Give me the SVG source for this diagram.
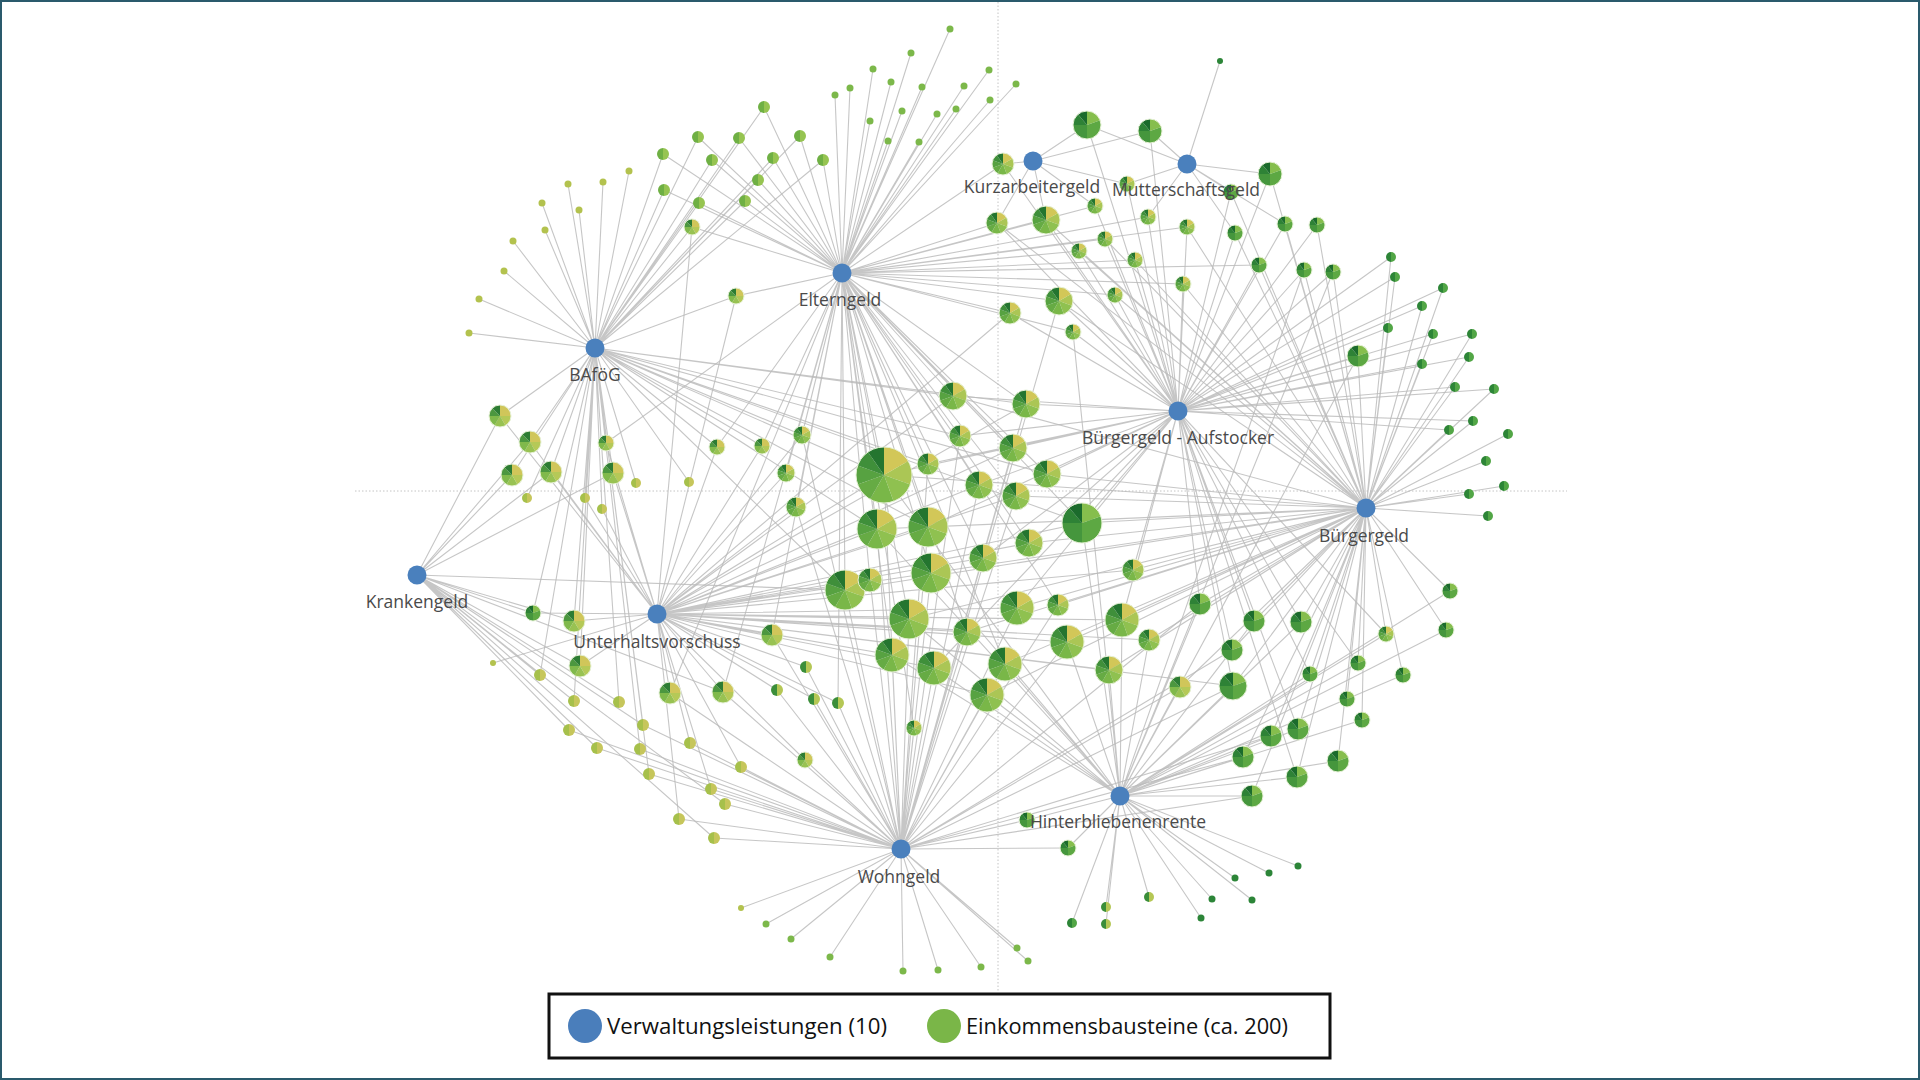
<svg xmlns="http://www.w3.org/2000/svg" width="1920" height="1080" viewBox="0 0 1920 1080">
<style>
.e{fill:none;stroke:#bababa;stroke-width:1.1;stroke-opacity:.82}
.guide{stroke:#c4c4c4;stroke-width:1;stroke-dasharray:1.5 2}
.rim{fill:none;stroke:#e6f1d6;stroke-width:1;vector-effect:non-scaling-stroke}
.hub{fill:#4a80bd}
.lbl{font-family:"Open Sans","DejaVu Sans",sans-serif;font-size:17.5px;fill:#4a4a4a;text-anchor:middle}
.leg{font-family:"Open Sans","DejaVu Sans",sans-serif;font-size:22px;fill:#111}
</style>
<defs>
<g id="pm"><path fill="#d2c758" d="M0 0L0-1A1 1 0 0 1 .866-.5Z"/><path fill="#abc655" d="M0 0L.866-.5A1 1 0 0 1 .94 .342Z"/><path fill="#8fc150" d="M0 0L.94 .342A1 1 0 0 1 .342 .94Z"/><path fill="#79b748" d="M0 0L.342 .94A1 1 0 0 1-.5 .866Z"/><path fill="#66ab44" d="M0 0L-.5 .866A1 1 0 0 1-.94 .342Z"/><path fill="#57a241" d="M0 0L-.94 .342A1 1 0 0 1-.94-.342Z"/><path fill="#3f8f3a" d="M0 0L-.94-.342A1 1 0 0 1-.574-.819Z"/><path fill="#24752f" d="M0 0L-.574-.819A1 1 0 0 1 0-1Z"/><circle class="rim" r="1"/></g>
<g id="py"><path fill="#d0c65a" d="M0 0L0-1A1 1 0 0 1 1 0Z"/><path fill="#b5c957" d="M0 0L1 0A1 1 0 0 1 .5 .866Z"/><path fill="#98c252" d="M0 0L.5 .866A1 1 0 0 1-.5 .866Z"/><path fill="#80b94b" d="M0 0L-.5 .866A1 1 0 0 1-1 0Z"/><path fill="#4c973f" d="M0 0L-1 0A1 1 0 0 1-.707-.707Z"/><path fill="#2d7c33" d="M0 0L-.707-.707A1 1 0 0 1 0-1Z"/><circle class="rim" r="1"/></g>
<g id="pd"><path fill="#86be4d" d="M0 0L0-1A1 1 0 0 1 .94-.342Z"/><path fill="#5da843" d="M0 0L.94-.342A1 1 0 0 1 0 1Z"/><path fill="#45963d" d="M0 0L0 1A1 1 0 0 1-1 0Z"/><path fill="#2e8236" d="M0 0L-1 0A1 1 0 0 1-.643-.766Z"/><path fill="#1b6b2c" d="M0 0L-.643-.766A1 1 0 0 1 0-1Z"/><circle class="rim" r="1"/></g>
<g id="hy"><path fill="#a6c04b" d="M0-1A1 1 0 0 0 0 1Z"/><path fill="#c6c65b" d="M0-1A1 1 0 0 1 0 1Z"/></g>
<g id="hm"><path fill="#6fb044" d="M0-1A1 1 0 0 0 0 1Z"/><path fill="#96c451" d="M0-1A1 1 0 0 1 0 1Z"/></g>
<g id="hd"><path fill="#2d8537" d="M0-1A1 1 0 0 0 0 1Z"/><path fill="#52a646" d="M0-1A1 1 0 0 1 0 1Z"/></g>
<g id="hx"><path fill="#3b8e3a" d="M0-1A1 1 0 0 0 0 1Z"/><path fill="#b5c755" d="M0-1A1 1 0 0 1 0 1Z"/></g>
<circle id="dy" r="1" fill="#b3c24e"/>
<circle id="dg" r="1" fill="#7cb84a"/>
<circle id="dd" r="1" fill="#2c8538"/>
</defs>
<rect x="0" y="0" width="1920" height="1080" fill="#fff"/>
<line class="guide" x1="998" y1="2" x2="998" y2="992"/>
<line class="guide" x1="355" y1="491" x2="1567" y2="491"/>
<g id="connectors">
<path id="e-bafog" class="e" d="M595 348L469 333M595 348L479 299M595 348L504 271M595 348L513 241M595 348L542 203M595 348L545 230M595 348L568 184M595 348L579 210M595 348L603 182M595 348L629 171M595 348L663 154M595 348L698 137M595 348L739 138M595 348L712 160M595 348L664 190M595 348L699 203M595 348L745 201M595 348L758 180M595 348L764 107M595 348L800 136M595 348L773 158M595 348L823 160M595 348L692 227M595 348L736 296M595 348L500 416M595 348L530 442M595 348L512 475M595 348L551 472M595 348L606 443M595 348L613 473M595 348L636 483M595 348L527 498M595 348L585 498M595 348L602 509M595 348L689 482M595 348L717 447M595 348L762 446M595 348L802 435M595 348L533 613M595 348L574 621M595 348L540 675M595 348L580 666M595 348L574 701M595 348L619 702M595 348L643 725M595 348L640 749M595 348L649 774M595 348L884 475M595 348L928 464M595 348L877 529M595 348L928 527M595 348L845 590M595 348L1082 523M595 348L953 396M595 348L1026 404M595 348L960 436M595 348L1047 474"/>
<path id="e-elterngeld" class="e" d="M842 273L663 154M842 273L698 137M842 273L739 138M842 273L712 160M842 273L664 190M842 273L699 203M842 273L745 201M842 273L758 180M842 273L764 107M842 273L800 136M842 273L773 158M842 273L823 160M842 273L950 29M842 273L911 53M842 273L873 69M842 273L891 82M842 273L850 88M842 273L835 95M842 273L922 87M842 273L902 111M842 273L870 121M842 273L888 141M842 273L919 142M842 273L937 114M842 273L956 109M842 273L964 86M842 273L989 70M842 273L990 100M842 273L1016 84M842 273L692 227M842 273L736 296M842 273L606 443M842 273L717 447M842 273L762 446M842 273L802 435M842 273L786 473M842 273L796 507M842 273L772 635M842 273L670 693M842 273L723 692M842 273L884 475M842 273L928 464M842 273L877 529M842 273L928 527M842 273L931 573M842 273L845 590M842 273L870 580M842 273L909 619M842 273L892 655M842 273L967 632M842 273L1005 664M842 273L1058 605M842 273L983 558M842 273L1029 543M842 273L1082 523M842 273L953 396M842 273L1026 404M842 273L960 436M842 273L1013 448M842 273L1047 474M842 273L979 485M842 273L1016 496M842 273L838 703M842 273L914 728M842 273L1003 164M842 273L1095 206M842 273L1148 217M842 273L997 223M842 273L1046 220M842 273L1105 239M842 273L1079 251M842 273L1135 260M842 273L1059 301M842 273L1010 313M842 273L1115 295M842 273L1073 332M842 273L1187 227M842 273L1259 265M842 273L1183 284"/>
<path id="e-kurzarbeitergeld" class="e" d="M1033 161L1003 164M1033 161L1087 125M1033 161L1150 131M1033 161L1127 184M1033 161L1095 206M1033 161L997 223M1033 161L1046 220"/>
<path id="e-mutterschaftsgeld" class="e" d="M1187 164L1087 125M1187 164L1150 131M1187 164L1127 184M1187 164L1148 217M1187 164L1220 61M1187 164L1270 174M1187 164L1231 192M1187 164L1235 233M1187 164L1285 224"/>
<path id="e-aufstocker" class="e" d="M1178 411L884 475M1178 411L928 464M1178 411L928 527M1178 411L934 668M1178 411L1017 608M1178 411L983 558M1178 411L1029 543M1178 411L1082 523M1178 411L1122 620M1178 411L1133 570M1178 411L953 396M1178 411L1026 404M1178 411L960 436M1178 411L1013 448M1178 411L1047 474M1178 411L979 485M1178 411L1386 634M1178 411L1358 663M1178 411L1310 674M1178 411L1200 604M1178 411L1254 621M1178 411L1301 622M1178 411L1232 650M1178 411L1233 686M1178 411L1298 729M1178 411L1297 777M1178 411L1003 164M1178 411L1087 125M1178 411L1150 131M1178 411L1127 184M1178 411L1095 206M1178 411L1148 217M1178 411L997 223M1178 411L1046 220M1178 411L1105 239M1178 411L1079 251M1178 411L1135 260M1178 411L1059 301M1178 411L1010 313M1178 411L1115 295M1178 411L1073 332M1178 411L1270 174M1178 411L1231 192M1178 411L1187 227M1178 411L1235 233M1178 411L1285 224M1178 411L1317 225M1178 411L1259 265M1178 411L1304 270M1178 411L1333 272M1178 411L1183 284M1178 411L1391 257M1178 411L1395 277M1178 411L1443 288M1178 411L1422 306M1178 411L1388 328M1178 411L1433 334M1178 411L1472 334M1178 411L1358 356M1178 411L1422 364M1178 411L1469 357M1178 411L1455 387M1178 411L1494 389M1178 411L1473 421M1178 411L1449 430"/>
<path id="e-buergergeld" class="e" d="M1366 508L884 475M1366 508L877 529M1366 508L928 527M1366 508L931 573M1366 508L845 590M1366 508L909 619M1366 508L967 632M1366 508L987 695M1366 508L1005 664M1366 508L1017 608M1366 508L1058 605M1366 508L1067 642M1366 508L1029 543M1366 508L1082 523M1366 508L1122 620M1366 508L1109 670M1366 508L1149 640M1366 508L1133 570M1366 508L953 396M1366 508L1047 474M1366 508L1016 496M1366 508L1450 591M1366 508L1446 630M1366 508L1386 634M1366 508L1403 675M1366 508L1358 663M1366 508L1310 674M1366 508L1347 699M1366 508L1362 720M1366 508L1200 604M1366 508L1254 621M1366 508L1301 622M1366 508L1232 650M1366 508L1180 687M1366 508L1233 686M1366 508L1271 736M1366 508L1298 729M1366 508L1243 757M1366 508L1297 777M1366 508L1338 761M1366 508L1252 796M1366 508L997 223M1366 508L1046 220M1366 508L1105 239M1366 508L1079 251M1366 508L1135 260M1366 508L1059 301M1366 508L1115 295M1366 508L1270 174M1366 508L1231 192M1366 508L1187 227M1366 508L1235 233M1366 508L1285 224M1366 508L1317 225M1366 508L1259 265M1366 508L1304 270M1366 508L1333 272M1366 508L1183 284M1366 508L1391 257M1366 508L1395 277M1366 508L1443 288M1366 508L1422 306M1366 508L1388 328M1366 508L1433 334M1366 508L1472 334M1366 508L1358 356M1366 508L1422 364M1366 508L1469 357M1366 508L1455 387M1366 508L1494 389M1366 508L1473 421M1366 508L1449 430M1366 508L1508 434M1366 508L1486 461M1366 508L1504 486M1366 508L1469 494M1366 508L1488 516"/>
<path id="e-krankengeld" class="e" d="M417 575L500 416M417 575L512 475M417 575L530 442M417 575L551 472M417 575L613 473M417 575L533 613M417 575L574 621M417 575L540 675M417 575L580 666M417 575L574 701M417 575L619 702M417 575L569 730M417 575L643 725M417 575L597 748M417 575L725 804M417 575L714 838M417 575L845 590M417 575L723 692"/>
<path id="e-unterhalt" class="e" d="M657 614L692 227M657 614L736 296M657 614L500 416M657 614L530 442M657 614L551 472M657 614L606 443M657 614L613 473M657 614L585 498M657 614L602 509M657 614L717 447M657 614L762 446M657 614L802 435M657 614L786 473M657 614L796 507M657 614L772 635M657 614L533 613M657 614L574 621M657 614L493 663M657 614L580 666M657 614L670 693M657 614L723 692M657 614L690 743M657 614L741 767M657 614L711 789M657 614L679 819M657 614L884 475M657 614L877 529M657 614L928 527M657 614L931 573M657 614L845 590M657 614L870 580M657 614L909 619M657 614L892 655M657 614L934 668M657 614L967 632M657 614L987 695M657 614L1017 608M657 614L1067 642M657 614L983 558M657 614L1029 543M657 614L1082 523M657 614L1122 620M657 614L1109 670M657 614L1149 640M657 614L1133 570M657 614L953 396M657 614L1026 404M657 614L1013 448M657 614L979 485M657 614L1016 496M657 614L806 667M657 614L777 690M657 614L814 699M657 614L838 703M657 614L805 760M657 614L1233 686M657 614L1010 313"/>
<path id="e-wohngeld" class="e" d="M901 849L802 435M901 849L796 507M901 849L772 635M901 849L670 693M901 849L723 692M901 849L569 730M901 849L643 725M901 849L597 748M901 849L640 749M901 849L690 743M901 849L649 774M901 849L741 767M901 849L711 789M901 849L725 804M901 849L679 819M901 849L714 838M901 849L741 908M901 849L766 924M901 849L791 939M901 849L830 957M901 849L903 971M901 849L938 970M901 849L981 967M901 849L1017 948M901 849L1028 961M901 849L884 475M901 849L928 464M901 849L877 529M901 849L928 527M901 849L931 573M901 849L845 590M901 849L870 580M901 849L909 619M901 849L892 655M901 849L934 668M901 849L967 632M901 849L987 695M901 849L1005 664M901 849L1017 608M901 849L1058 605M901 849L1067 642M901 849L1026 404M901 849L960 436M901 849L1013 448M901 849L979 485M901 849L1016 496M901 849L806 667M901 849L777 690M901 849L814 699M901 849L838 703M901 849L914 728M901 849L805 760M901 849L1027 820M901 849L1068 848M901 849L1200 604M901 849L1232 650M901 849L1180 687M901 849L1233 686M901 849L1271 736M901 849L1243 757M901 849L1252 796M901 849L1059 301"/>
<path id="e-hinterbliebenenrente" class="e" d="M1120 796L884 475M1120 796L877 529M1120 796L931 573M1120 796L909 619M1120 796L892 655M1120 796L934 668M1120 796L987 695M1120 796L1005 664M1120 796L1067 642M1120 796L1082 523M1120 796L1122 620M1120 796L1109 670M1120 796L1149 640M1120 796L1027 820M1120 796L1068 848M1120 796L1149 897M1120 796L1106 907M1120 796L1106 924M1120 796L1072 923M1120 796L1298 866M1120 796L1269 873M1120 796L1235 878M1120 796L1212 899M1120 796L1252 900M1120 796L1201 918M1120 796L1450 591M1120 796L1446 630M1120 796L1386 634M1120 796L1403 675M1120 796L1358 663M1120 796L1310 674M1120 796L1347 699M1120 796L1362 720M1120 796L1200 604M1120 796L1254 621M1120 796L1301 622M1120 796L1232 650M1120 796L1180 687M1120 796L1233 686M1120 796L1271 736M1120 796L1298 729M1120 796L1243 757M1120 796L1297 777M1120 796L1338 761M1120 796L1252 796M1120 796L1073 332M1120 796L1304 270M1120 796L1333 272M1120 796L1358 356"/>
</g>
<g id="income-nodes">
<g id="n1" transform="translate(469 333) scale(3.5)"><use href="#dy"/></g>
<g id="n2" transform="translate(479 299) scale(3.5)"><use href="#dy"/></g>
<g id="n3" transform="translate(504 271) scale(3.5)"><use href="#dy"/></g>
<g id="n4" transform="translate(513 241) scale(3.5)"><use href="#dy"/></g>
<g id="n5" transform="translate(542 203) scale(3.5)"><use href="#dy"/></g>
<g id="n6" transform="translate(545 230) scale(3.5)"><use href="#dy"/></g>
<g id="n7" transform="translate(568 184) scale(3.5)"><use href="#dy"/></g>
<g id="n8" transform="translate(579 210) scale(3.5)"><use href="#dy"/></g>
<g id="n9" transform="translate(603 182) scale(3.5)"><use href="#dy"/></g>
<g id="n10" transform="translate(629 171) scale(3.5)"><use href="#dy"/></g>
<g id="n11" transform="translate(663 154) scale(6)"><use href="#hm"/></g>
<g id="n12" transform="translate(698 137) scale(6)"><use href="#hm"/></g>
<g id="n13" transform="translate(739 138) scale(6)"><use href="#hm"/></g>
<g id="n14" transform="translate(712 160) scale(6)"><use href="#hm"/></g>
<g id="n15" transform="translate(664 190) scale(6)"><use href="#hm"/></g>
<g id="n16" transform="translate(699 203) scale(6)"><use href="#hm"/></g>
<g id="n17" transform="translate(745 201) scale(6)"><use href="#hm"/></g>
<g id="n18" transform="translate(758 180) scale(6)"><use href="#hm"/></g>
<g id="n19" transform="translate(764 107) scale(6)"><use href="#hm"/></g>
<g id="n20" transform="translate(800 136) scale(6)"><use href="#hm"/></g>
<g id="n21" transform="translate(773 158) scale(6)"><use href="#hm"/></g>
<g id="n22" transform="translate(823 160) scale(6)"><use href="#hm"/></g>
<g id="n23" transform="translate(950 29) scale(3.5)"><use href="#dg"/></g>
<g id="n24" transform="translate(911 53) scale(3.5)"><use href="#dg"/></g>
<g id="n25" transform="translate(873 69) scale(3.5)"><use href="#dg"/></g>
<g id="n26" transform="translate(891 82) scale(3.5)"><use href="#dg"/></g>
<g id="n27" transform="translate(850 88) scale(3.5)"><use href="#dg"/></g>
<g id="n28" transform="translate(835 95) scale(3.5)"><use href="#dg"/></g>
<g id="n29" transform="translate(922 87) scale(3.5)"><use href="#dg"/></g>
<g id="n30" transform="translate(902 111) scale(3.5)"><use href="#dg"/></g>
<g id="n31" transform="translate(870 121) scale(3.5)"><use href="#dg"/></g>
<g id="n32" transform="translate(888 141) scale(3.5)"><use href="#dg"/></g>
<g id="n33" transform="translate(919 142) scale(3.5)"><use href="#dg"/></g>
<g id="n34" transform="translate(937 114) scale(3.5)"><use href="#dg"/></g>
<g id="n35" transform="translate(956 109) scale(3.5)"><use href="#dg"/></g>
<g id="n36" transform="translate(964 86) scale(3.5)"><use href="#dg"/></g>
<g id="n37" transform="translate(989 70) scale(3.5)"><use href="#dg"/></g>
<g id="n38" transform="translate(990 100) scale(3.5)"><use href="#dg"/></g>
<g id="n39" transform="translate(1016 84) scale(3.5)"><use href="#dg"/></g>
<g id="n40" transform="translate(692 227) scale(8)"><use href="#py"/></g>
<g id="n41" transform="translate(736 296) scale(8)"><use href="#py"/></g>
<g id="n42" transform="translate(500 416) scale(11)"><use href="#py"/></g>
<g id="n43" transform="translate(530 442) scale(11)"><use href="#py"/></g>
<g id="n44" transform="translate(512 475) scale(11)"><use href="#py"/></g>
<g id="n45" transform="translate(551 472) scale(11)"><use href="#py"/></g>
<g id="n46" transform="translate(606 443) scale(8)"><use href="#py"/></g>
<g id="n47" transform="translate(613 473) scale(11)"><use href="#py"/></g>
<g id="n48" transform="translate(636 483) scale(5)"><use href="#hy"/></g>
<g id="n49" transform="translate(527 498) scale(5)"><use href="#hy"/></g>
<g id="n50" transform="translate(585 498) scale(5)"><use href="#hy"/></g>
<g id="n51" transform="translate(602 509) scale(5)"><use href="#hy"/></g>
<g id="n52" transform="translate(689 482) scale(5)"><use href="#hy"/></g>
<g id="n53" transform="translate(717 447) scale(8)"><use href="#py"/></g>
<g id="n54" transform="translate(762 446) scale(8)"><use href="#py"/></g>
<g id="n55" transform="translate(802 435) scale(9)"><use href="#pm"/></g>
<g id="n56" transform="translate(786 473) scale(9)"><use href="#pm"/></g>
<g id="n57" transform="translate(796 507) scale(10)"><use href="#pm"/></g>
<g id="n58" transform="translate(772 635) scale(11)"><use href="#py"/></g>
<g id="n59" transform="translate(533 613) scale(8)"><use href="#pd"/></g>
<g id="n60" transform="translate(574 621) scale(11)"><use href="#py"/></g>
<g id="n61" transform="translate(493 663) scale(3)"><use href="#dy"/></g>
<g id="n62" transform="translate(540 675) scale(6)"><use href="#hy"/></g>
<g id="n63" transform="translate(580 666) scale(11)"><use href="#py"/></g>
<g id="n64" transform="translate(574 701) scale(6)"><use href="#hy"/></g>
<g id="n65" transform="translate(619 702) scale(6)"><use href="#hy"/></g>
<g id="n66" transform="translate(670 693) scale(11)"><use href="#py"/></g>
<g id="n67" transform="translate(723 692) scale(11)"><use href="#py"/></g>
<g id="n68" transform="translate(569 730) scale(6)"><use href="#hy"/></g>
<g id="n69" transform="translate(643 725) scale(6)"><use href="#hy"/></g>
<g id="n70" transform="translate(597 748) scale(6)"><use href="#hy"/></g>
<g id="n71" transform="translate(640 749) scale(6)"><use href="#hy"/></g>
<g id="n72" transform="translate(690 743) scale(6)"><use href="#hy"/></g>
<g id="n73" transform="translate(649 774) scale(6)"><use href="#hy"/></g>
<g id="n74" transform="translate(741 767) scale(6)"><use href="#hy"/></g>
<g id="n75" transform="translate(711 789) scale(6)"><use href="#hy"/></g>
<g id="n76" transform="translate(725 804) scale(6)"><use href="#hy"/></g>
<g id="n77" transform="translate(679 819) scale(6)"><use href="#hy"/></g>
<g id="n78" transform="translate(714 838) scale(6)"><use href="#hy"/></g>
<g id="n79" transform="translate(741 908) scale(3)"><use href="#dy"/></g>
<g id="n80" transform="translate(766 924) scale(3.5)"><use href="#dg"/></g>
<g id="n81" transform="translate(791 939) scale(3.5)"><use href="#dg"/></g>
<g id="n82" transform="translate(830 957) scale(3.5)"><use href="#dg"/></g>
<g id="n83" transform="translate(903 971) scale(3.5)"><use href="#dg"/></g>
<g id="n84" transform="translate(938 970) scale(3.5)"><use href="#dg"/></g>
<g id="n85" transform="translate(981 967) scale(3.5)"><use href="#dg"/></g>
<g id="n86" transform="translate(1017 948) scale(3.5)"><use href="#dg"/></g>
<g id="n87" transform="translate(1028 961) scale(3.5)"><use href="#dg"/></g>
<g id="n88" transform="translate(884 475) scale(28)"><use href="#pm"/></g>
<g id="n89" transform="translate(928 464) scale(11)"><use href="#pm"/></g>
<g id="n90" transform="translate(877 529) scale(20)"><use href="#pm"/></g>
<g id="n91" transform="translate(928 527) scale(20)"><use href="#pm"/></g>
<g id="n92" transform="translate(931 573) scale(20)"><use href="#pm"/></g>
<g id="n93" transform="translate(845 590) scale(20)"><use href="#pm"/></g>
<g id="n94" transform="translate(870 580) scale(12)"><use href="#pm"/></g>
<g id="n95" transform="translate(909 619) scale(20)"><use href="#pm"/></g>
<g id="n96" transform="translate(892 655) scale(17)"><use href="#pm"/></g>
<g id="n97" transform="translate(934 668) scale(17)"><use href="#pm"/></g>
<g id="n98" transform="translate(967 632) scale(14)"><use href="#pm"/></g>
<g id="n99" transform="translate(987 695) scale(17)"><use href="#pm"/></g>
<g id="n100" transform="translate(1005 664) scale(17)"><use href="#pm"/></g>
<g id="n101" transform="translate(1017 608) scale(17)"><use href="#pm"/></g>
<g id="n102" transform="translate(1058 605) scale(11)"><use href="#pm"/></g>
<g id="n103" transform="translate(1067 642) scale(17)"><use href="#pm"/></g>
<g id="n104" transform="translate(983 558) scale(14)"><use href="#pm"/></g>
<g id="n105" transform="translate(1029 543) scale(14)"><use href="#pm"/></g>
<g id="n106" transform="translate(1082 523) scale(20)"><use href="#pd"/></g>
<g id="n107" transform="translate(1122 620) scale(17)"><use href="#pm"/></g>
<g id="n108" transform="translate(1109 670) scale(14)"><use href="#pm"/></g>
<g id="n109" transform="translate(1149 640) scale(11)"><use href="#pm"/></g>
<g id="n110" transform="translate(1133 570) scale(11)"><use href="#pm"/></g>
<g id="n111" transform="translate(953 396) scale(14)"><use href="#pm"/></g>
<g id="n112" transform="translate(1026 404) scale(14)"><use href="#pm"/></g>
<g id="n113" transform="translate(960 436) scale(11)"><use href="#pm"/></g>
<g id="n114" transform="translate(1013 448) scale(14)"><use href="#pm"/></g>
<g id="n115" transform="translate(1047 474) scale(14)"><use href="#pm"/></g>
<g id="n116" transform="translate(979 485) scale(14)"><use href="#pm"/></g>
<g id="n117" transform="translate(1016 496) scale(14)"><use href="#pm"/></g>
<g id="n118" transform="translate(806 667) scale(6)"><use href="#hx"/></g>
<g id="n119" transform="translate(777 690) scale(6)"><use href="#hx"/></g>
<g id="n120" transform="translate(814 699) scale(6)"><use href="#hx"/></g>
<g id="n121" transform="translate(838 703) scale(6)"><use href="#hx"/></g>
<g id="n122" transform="translate(914 728) scale(8)"><use href="#pm"/></g>
<g id="n123" transform="translate(805 760) scale(8)"><use href="#py"/></g>
<g id="n124" transform="translate(1027 820) scale(8)"><use href="#pd"/></g>
<g id="n125" transform="translate(1068 848) scale(8)"><use href="#pd"/></g>
<g id="n126" transform="translate(1149 897) scale(5)"><use href="#hx"/></g>
<g id="n127" transform="translate(1106 907) scale(5)"><use href="#hx"/></g>
<g id="n128" transform="translate(1106 924) scale(5)"><use href="#hx"/></g>
<g id="n129" transform="translate(1072 923) scale(5)"><use href="#hd"/></g>
<g id="n130" transform="translate(1298 866) scale(3.5)"><use href="#dd"/></g>
<g id="n131" transform="translate(1269 873) scale(3.5)"><use href="#dd"/></g>
<g id="n132" transform="translate(1235 878) scale(3.5)"><use href="#dd"/></g>
<g id="n133" transform="translate(1212 899) scale(3.5)"><use href="#dd"/></g>
<g id="n134" transform="translate(1252 900) scale(3.5)"><use href="#dd"/></g>
<g id="n135" transform="translate(1201 918) scale(3.5)"><use href="#dd"/></g>
<g id="n136" transform="translate(1450 591) scale(8)"><use href="#pd"/></g>
<g id="n137" transform="translate(1446 630) scale(8)"><use href="#pd"/></g>
<g id="n138" transform="translate(1386 634) scale(8)"><use href="#pm"/></g>
<g id="n139" transform="translate(1403 675) scale(8)"><use href="#pd"/></g>
<g id="n140" transform="translate(1358 663) scale(8)"><use href="#pd"/></g>
<g id="n141" transform="translate(1310 674) scale(8)"><use href="#pd"/></g>
<g id="n142" transform="translate(1347 699) scale(8)"><use href="#pd"/></g>
<g id="n143" transform="translate(1362 720) scale(8)"><use href="#pd"/></g>
<g id="n144" transform="translate(1200 604) scale(11)"><use href="#pd"/></g>
<g id="n145" transform="translate(1254 621) scale(11)"><use href="#pd"/></g>
<g id="n146" transform="translate(1301 622) scale(11)"><use href="#pd"/></g>
<g id="n147" transform="translate(1232 650) scale(11)"><use href="#pd"/></g>
<g id="n148" transform="translate(1180 687) scale(11)"><use href="#py"/></g>
<g id="n149" transform="translate(1233 686) scale(14)"><use href="#pd"/></g>
<g id="n150" transform="translate(1271 736) scale(11)"><use href="#pd"/></g>
<g id="n151" transform="translate(1298 729) scale(11)"><use href="#pd"/></g>
<g id="n152" transform="translate(1243 757) scale(11)"><use href="#pd"/></g>
<g id="n153" transform="translate(1297 777) scale(11)"><use href="#pd"/></g>
<g id="n154" transform="translate(1338 761) scale(11)"><use href="#pd"/></g>
<g id="n155" transform="translate(1252 796) scale(11)"><use href="#pd"/></g>
<g id="n156" transform="translate(1003 164) scale(11)"><use href="#pm"/></g>
<g id="n157" transform="translate(1087 125) scale(14)"><use href="#pd"/></g>
<g id="n158" transform="translate(1150 131) scale(12)"><use href="#pd"/></g>
<g id="n159" transform="translate(1127 184) scale(8)"><use href="#pm"/></g>
<g id="n160" transform="translate(1095 206) scale(8)"><use href="#pm"/></g>
<g id="n161" transform="translate(1148 217) scale(8)"><use href="#pm"/></g>
<g id="n162" transform="translate(997 223) scale(11)"><use href="#pm"/></g>
<g id="n163" transform="translate(1046 220) scale(14)"><use href="#pm"/></g>
<g id="n164" transform="translate(1105 239) scale(8)"><use href="#pm"/></g>
<g id="n165" transform="translate(1079 251) scale(8)"><use href="#pm"/></g>
<g id="n166" transform="translate(1135 260) scale(8)"><use href="#pm"/></g>
<g id="n167" transform="translate(1059 301) scale(14)"><use href="#pm"/></g>
<g id="n168" transform="translate(1010 313) scale(11)"><use href="#pm"/></g>
<g id="n169" transform="translate(1115 295) scale(8)"><use href="#pm"/></g>
<g id="n170" transform="translate(1073 332) scale(8)"><use href="#pm"/></g>
<g id="n171" transform="translate(1220 61) scale(3)"><use href="#dd"/></g>
<g id="n172" transform="translate(1270 174) scale(12)"><use href="#pd"/></g>
<g id="n173" transform="translate(1231 192) scale(8)"><use href="#pd"/></g>
<g id="n174" transform="translate(1187 227) scale(8)"><use href="#pm"/></g>
<g id="n175" transform="translate(1235 233) scale(8)"><use href="#pd"/></g>
<g id="n176" transform="translate(1285 224) scale(8)"><use href="#pd"/></g>
<g id="n177" transform="translate(1317 225) scale(8)"><use href="#pd"/></g>
<g id="n178" transform="translate(1259 265) scale(8)"><use href="#pd"/></g>
<g id="n179" transform="translate(1304 270) scale(8)"><use href="#pd"/></g>
<g id="n180" transform="translate(1333 272) scale(8)"><use href="#pd"/></g>
<g id="n181" transform="translate(1183 284) scale(8)"><use href="#pm"/></g>
<g id="n182" transform="translate(1391 257) scale(5)"><use href="#hd"/></g>
<g id="n183" transform="translate(1395 277) scale(5)"><use href="#hd"/></g>
<g id="n184" transform="translate(1443 288) scale(5)"><use href="#hd"/></g>
<g id="n185" transform="translate(1422 306) scale(5)"><use href="#hd"/></g>
<g id="n186" transform="translate(1388 328) scale(5)"><use href="#hd"/></g>
<g id="n187" transform="translate(1433 334) scale(5)"><use href="#hd"/></g>
<g id="n188" transform="translate(1472 334) scale(5)"><use href="#hd"/></g>
<g id="n189" transform="translate(1358 356) scale(11)"><use href="#pd"/></g>
<g id="n190" transform="translate(1422 364) scale(5)"><use href="#hd"/></g>
<g id="n191" transform="translate(1469 357) scale(5)"><use href="#hd"/></g>
<g id="n192" transform="translate(1455 387) scale(5)"><use href="#hd"/></g>
<g id="n193" transform="translate(1494 389) scale(5)"><use href="#hd"/></g>
<g id="n194" transform="translate(1473 421) scale(5)"><use href="#hd"/></g>
<g id="n195" transform="translate(1449 430) scale(5)"><use href="#hd"/></g>
<g id="n196" transform="translate(1508 434) scale(5)"><use href="#hd"/></g>
<g id="n197" transform="translate(1486 461) scale(5)"><use href="#hd"/></g>
<g id="n198" transform="translate(1504 486) scale(5)"><use href="#hd"/></g>
<g id="n199" transform="translate(1469 494) scale(5)"><use href="#hd"/></g>
<g id="n200" transform="translate(1488 516) scale(5)"><use href="#hd"/></g>
</g>
<g id="admin-nodes">
<g id="h-bafog"><circle class="hub" cx="595" cy="348" r="9.5"/><text class="lbl" x="595" y="381">BAföG</text></g>
<g id="h-elterngeld"><circle class="hub" cx="842" cy="273" r="9.5"/><text class="lbl" x="840" y="306">Elterngeld</text></g>
<g id="h-kurzarbeitergeld"><circle class="hub" cx="1033" cy="161" r="9.5"/><text class="lbl" x="1032" y="193">Kurzarbeitergeld</text></g>
<g id="h-mutterschaftsgeld"><circle class="hub" cx="1187" cy="164" r="9.5"/><text class="lbl" x="1186" y="196">Mutterschaftsgeld</text></g>
<g id="h-aufstocker"><circle class="hub" cx="1178" cy="411" r="9.5"/><text class="lbl" x="1178" y="444">Bürgergeld - Aufstocker</text></g>
<g id="h-buergergeld"><circle class="hub" cx="1366" cy="508" r="9.5"/><text class="lbl" x="1364" y="542">Bürgergeld</text></g>
<g id="h-krankengeld"><circle class="hub" cx="417" cy="575" r="9.5"/><text class="lbl" x="417" y="608">Krankengeld</text></g>
<g id="h-unterhalt"><circle class="hub" cx="657" cy="614" r="9.5"/><text class="lbl" x="657" y="648">Unterhaltsvorschuss</text></g>
<g id="h-hinterbliebenenrente"><circle class="hub" cx="1120" cy="796" r="9.5"/><text class="lbl" x="1118" y="828">Hinterbliebenenrente</text></g>
<g id="h-wohngeld"><circle class="hub" cx="901" cy="849" r="9.5"/><text class="lbl" x="899" y="883">Wohngeld</text></g>
</g>
<g id="legend">
<rect x="549" y="994" width="781" height="64" fill="#fff" stroke="#111" stroke-width="3"/>
<circle cx="585" cy="1026" r="17" fill="#4a7ebb"/>
<text class="leg" x="607" y="1034" textLength="280" lengthAdjust="spacingAndGlyphs">Verwaltungsleistungen (10)</text>
<circle cx="944" cy="1026" r="17" fill="#7ab648"/>
<text class="leg" x="966" y="1034" textLength="322" lengthAdjust="spacingAndGlyphs">Einkommensbausteine (ca. 200)</text>
</g>
<rect x="1" y="1" width="1918" height="1078" fill="none" stroke="#2a5a6c" stroke-width="2"/>
</svg>
